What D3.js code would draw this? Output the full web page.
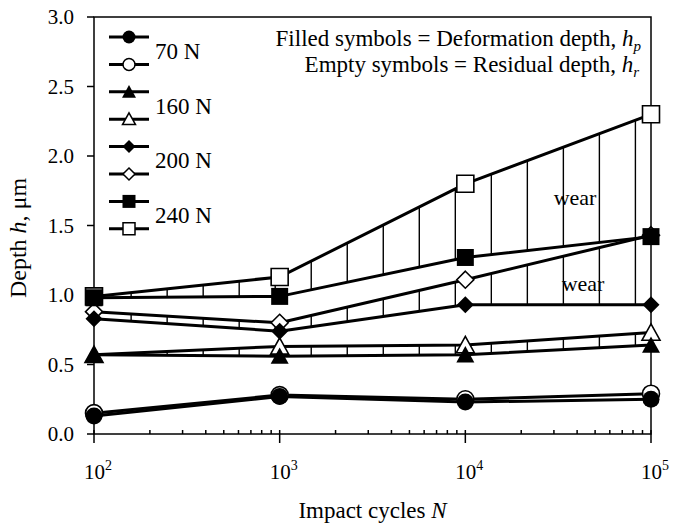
<!DOCTYPE html>
<html>
<head>
<meta charset="utf-8">
<script src="https://cdn.jsdelivr.net/npm/d3@7"></script>
<style>
  body { margin: 0; background: #fff; }
  svg { display: block; }
</style>
</head>
<body>
<script>
// impact cycles on the log x axis
const cycles = [1e2, 1e3, 1e4, 1e5];
const xTicks = [1e2, 1e3, 1e4, 1e5];
const yTicks = [0, 0.5, 1.0, 1.5, 2.0, 2.5, 3.0];
const loads = ["70 N", "160 N", "200 N", "240 N"];

// deformation depth hp (filled) and residual depth hr (empty), um
const hp70 = [0.13, 0.27, 0.23, 0.25];
const hr70 = [0.15, 0.28, 0.25, 0.29];
const hp160 = [0.57, 0.56, 0.57, 0.64];
const hr160 = [0.57, 0.63, 0.64, 0.73];
const hp200 = [0.83, 0.74, 0.93, 0.93];
const hr200 = [0.88, 0.80, 1.11, 1.43];
const hp240 = [0.98, 0.99, 1.27, 1.42];
const hr240 = [0.99, 1.13, 1.80, 2.30];

const shapes = ["circle", "triangle", "diamond", "square"];

const W = 676, H = 527;
const plotL = 94, plotR = 651, plotT = 17, plotB = 434;
const serif = "Liberation Serif";

const svg = d3.select("body").append("svg")
  .attr("width", W).attr("height", H);

const x = d3.scaleLog().domain([1e2, 1e5]).range([plotL, plotR]);
const y = d3.scaleLinear().domain([0, 3]).range([plotB, plotT]);

const pairs = [
  { load: loads[0], shape: shapes[0], hp: hp70, hr: hr70, hatch: false },
  { load: loads[1], shape: shapes[1], hp: hp160, hr: hr160, hatch: true },
  { load: loads[2], shape: shapes[2], hp: hp200, hr: hr200, hatch: true },
  { load: loads[3], shape: shapes[3], hp: hp240, hr: hr240, hatch: true }
];

function addText(parent, px, py, size) {
  return parent.append("text")
    .attr("x", px).attr("y", py)
    .attr("font-family", serif).attr("font-size", size);
}

// marker path centred on 0,0; s = overall width in px
function marker(shape, s) {
  const r = s / 2;
  switch (shape) {
    case "circle":
      return d3.symbol(d3.symbolCircle, Math.PI * r * r)();
    case "square":
      return `M${-r},${-r}H${r}V${r}H${-r}Z`;
    case "diamond":
      return `M0,${-r}L${r},0L0,${r}L${-r},0Z`;
    case "triangle": {
      const h = s * 0.9;
      return `M0,${-h / 2 - 1}L${r + 0.5},${h / 2}L${-r - 0.5},${h / 2}Z`;
    }
  }
}

// wear hatching: vertical strokes between hr and hp
const hatchLogs = d3.range(2.2, 4.99, 0.194);
function valueAt(series, logN) {
  const seg = Math.min(2, Math.floor(logN - 2));
  const t = logN - 2 - seg;
  return series[seg] + (series[seg + 1] - series[seg]) * t;
}
const hatchG = svg.append("g").attr("stroke", "#000").attr("stroke-width", 1.4);
pairs.filter(p => p.hatch).forEach(p => {
  hatchLogs.forEach(l => {
    const xp = x(Math.pow(10, l));
    hatchG.append("line")
      .attr("x1", xp).attr("x2", xp)
      .attr("y1", y(valueAt(p.hp, l)))
      .attr("y2", y(valueAt(p.hr, l)));
  });
});

// frame
svg.append("rect")
  .attr("x", plotL).attr("y", plotT)
  .attr("width", plotR - plotL).attr("height", plotB - plotT)
  .attr("fill", "none").attr("stroke", "#000").attr("stroke-width", 1.5);

// y axis ticks and labels
const yAxis = svg.append("g");
yTicks.forEach(v => {
  yAxis.append("line")
    .attr("x1", plotL - 7).attr("x2", plotL)
    .attr("y1", y(v)).attr("y2", y(v))
    .attr("stroke", "#000").attr("stroke-width", 1.5);
  addText(yAxis, plotL - 20, y(v) + 7, 21)
    .attr("text-anchor", "end")
    .text(v.toFixed(1));
});

// x axis: major ticks cross the axis, minor ticks point inward
const xAxis = svg.append("g").attr("stroke", "#000").attr("stroke-width", 1.5);
xTicks.forEach(v => {
  xAxis.append("line")
    .attr("x1", x(v)).attr("x2", x(v))
    .attr("y1", plotB - 4).attr("y2", plotB + 9);
});
d3.range(2, 5).forEach(e => {
  d3.range(2, 10).forEach(m => {
    const xp = x(m * Math.pow(10, e));
    xAxis.append("line")
      .attr("x1", xp).attr("x2", xp)
      .attr("y1", plotB - 4).attr("y2", plotB);
  });
});
xTicks.forEach(v => {
  const t = addText(svg, x(v) + 4, plotB + 45, 21).attr("text-anchor", "middle");
  t.append("tspan").text("10");
  t.append("tspan").attr("dy", -9).attr("font-size", 14).text(Math.round(Math.log10(v)));
});

// axis titles
const xt = addText(svg, (plotL + plotR) / 2, 518, 23).attr("text-anchor", "middle");
xt.append("tspan").text("Impact cycles ");
xt.append("tspan").attr("font-style", "italic").text("N");

const yt = addText(svg, 0, 0, 24)
  .attr("transform", `translate(26,238) rotate(-90)`)
  .attr("text-anchor", "middle");
yt.append("tspan").text("Depth ");
yt.append("tspan").attr("font-style", "italic").text("h");
yt.append("tspan").text(", \u03bcm");

// series lines
const line = d3.line().x((d, i) => x(cycles[i])).y(d => y(d));
pairs.forEach(p => {
  [p.hr, p.hp].forEach(s => {
    svg.append("path")
      .attr("d", line(s))
      .attr("fill", "none").attr("stroke", "#000")
      .attr("stroke-width", 3).attr("stroke-linejoin", "round");
  });
});

// markers: empty ones first, filled ones on top
pairs.forEach(p => {
  p.hr.forEach((v, i) => {
    svg.append("path")
      .attr("d", marker(p.shape, 17))
      .attr("transform", `translate(${x(cycles[i])},${y(v)})`)
      .attr("fill", "#fff").attr("stroke", "#000").attr("stroke-width", 1.6);
  });
});
pairs.forEach(p => {
  p.hp.forEach((v, i) => {
    svg.append("path")
      .attr("d", marker(p.shape, 17))
      .attr("transform", `translate(${x(cycles[i])},${y(v)})`)
      .attr("fill", "#000");
  });
});

// wear labels
addText(svg, 575, 205, 22).attr("text-anchor", "middle").text("wear");
addText(svg, 583, 291, 22).attr("text-anchor", "middle").text("wear");

// note in the top right corner
const n1 = addText(svg, 641, 46, 23).attr("text-anchor", "end");
n1.append("tspan").text("Filled symbols = Deformation depth, ");
n1.append("tspan").attr("font-style", "italic").text("h");
n1.append("tspan").attr("font-style", "italic").attr("font-size", 15).attr("dy", 5).text("p");
const n2 = addText(svg, 639, 72, 23).attr("text-anchor", "end");
n2.append("tspan").text("Empty symbols = Residual depth, ");
n2.append("tspan").attr("font-style", "italic").text("h");
n2.append("tspan").attr("font-style", "italic").attr("font-size", 15).attr("dy", 5).text("r");

// legend
const legend = svg.append("g");
pairs.forEach((p, k) => {
  [true, false].forEach((filled, j) => {
    const ly = 37 + 27.4 * (k * 2 + j);
    legend.append("line")
      .attr("x1", 109).attr("x2", 149).attr("y1", ly).attr("y2", ly)
      .attr("stroke", "#000").attr("stroke-width", 3);
    legend.append("path")
      .attr("d", marker(p.shape, filled ? 13 : 12))
      .attr("transform", `translate(129,${ly})`)
      .attr("fill", filled ? "#000" : "#fff")
      .attr("stroke", filled ? "none" : "#000")
      .attr("stroke-width", 1.5);
  });
  addText(legend, 155, 37 + 27.4 * (k * 2) + 13.7 + 8, 23).text(p.load);
});
</script>
</body>
</html>
